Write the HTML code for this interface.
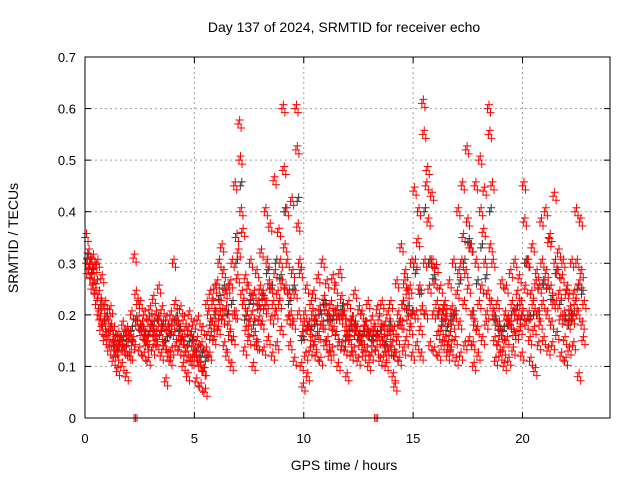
<!DOCTYPE html>
<html><head><meta charset="utf-8">
<style>
body{margin:0;background:#fff;}
svg text{font-family:"Liberation Sans",sans-serif;}
</style></head>
<body>
<svg id="chart" width="640" height="480" xmlns="http://www.w3.org/2000/svg">
<rect width="640" height="480" fill="#fff"/>
<text x="344" y="32" font-size="14" text-anchor="middle">Day 137 of 2024, SRMTID for receiver echo</text>
<text x="344" y="470" font-size="14" text-anchor="middle">GPS time / hours</text>
<text transform="translate(18,238) rotate(-90)" font-size="14" text-anchor="middle">SRMTID / TECUs</text>
<g id="grid"></g>
<g id="ticks"></g>
<g id="black"></g>
<g id="red"></g>
<rect x="85" y="57" width="525" height="361" fill="none" stroke="#000" stroke-width="1"/>
</svg>
<script>
const xTicks=[0,5,10,15,20];
const yTicks=[0,0.1,0.2,0.3,0.4,0.5,0.6,0.7];
const yTickLabels=["0","0.1","0.2","0.3","0.4","0.5","0.6","0.7"];
const times=[0,0.2,0.4,0.6,0.8,1.0,1.2,1.4,1.6,1.8,2.0,2.2,2.4,2.6,2.8,3.0,3.2,3.4,3.6,3.8,4.0,4.2,4.4,4.6,4.8,5.0,5.2,5.4,5.6,5.8,6.0,6.2,6.4,6.6,6.8,7.0,7.2,7.4,7.6,7.8,8.0,8.2,8.4,8.6,8.8,9.0,9.2,9.4,9.6,9.8,10.0,10.2,10.4,10.6,10.8,11.0,11.2,11.4,11.6,11.8,12.0,12.2,12.4,12.6,12.8,13.0,13.2,13.4,13.6,13.8,14.0,14.2,14.4,14.6,14.8,15.0,15.2,15.4,15.6,15.8,16.0,16.2,16.4,16.6,16.8,17.0,17.2,17.4,17.6,17.8,18.0,18.2,18.4,18.6,18.8,19.0,19.2,19.4,19.6,19.8,20.0,20.2,20.4,20.6,20.8,21.0,21.2,21.4,21.6,21.8,22.0,22.2,22.4,22.6];
const redA=[.35,.30,.29,.24,.18,.16,.14,.12,.15,.13,.16,.31,.19,.17,.15,.18,.20,.16,.14,.17,.30,.18,.15,.13,.16,.12,.10,.09,.20,.22,.26,.33,.21,.26,.45,.57,.22,.25,.20,.28,.32,.40,.37,.46,.36,.60,.30,.42,.60,.28,.20,.18,.24,.27,.30,.26,.22,.25,.28,.20,.22,.19,.17,.20,.18,.16,.17,.19,.15,.20,.14,.26,.33,.28,.25,.44,.40,.61,.48,.43,.29,.25,.22,.26,.30,.40,.45,.52,.33,.45,.50,.44,.60,.30,.22,.26,.25,.28,.30,.27,.45,.30,.33,.28,.38,.40,.35,.43,.32,.30,.25,.30,.40,.38];
const redB=[.30,.27,.24,.19,.15,.13,.11,.09,.10,.08,.12,0,.13,.12,.11,.13,.14,.12,.07,.11,.16,.13,.10,.08,.11,.07,.06,.05,.12,.15,.17,.19,.12,.10,.20,.50,.13,.15,.10,.14,.18,.22,.25,.28,.22,.48,.19,.28,.52,.10,.12,.13,.14,.16,.18,.15,.13,.16,.19,.13,.15,.13,.11,.15,.13,.12,0,.11,.12,.16,.08,.15,.18,.15,.17,.30,.25,.55,.38,.30,.22,.17,.15,.16,.20,.28,.35,.38,.20,.30,.40,.30,.55,.20,.14,.16,.15,.18,.20,.17,.38,.20,.22,.20,.30,.28,.25,.30,.24,.20,.18,.19,.30,.28];
const redC=[.28,.25,.22,.17,.22,.19,.17,.16,.18,.17,.20,.24,.22,.20,.19,.23,.17,.21,.19,.20,.22,.16,.19,.17,.14,.15,.14,.13,.24,.25,.30,.28,.25,.30,.35,.40,.27,.18,.24,.22,.24,.30,.19,.20,.30,.33,.24,.18,.37,.16,.25,.22,.19,.21,.23,.20,.27,.21,.23,.17,.18,.24,.21,.12,.22,.19,.13,.15,.18,.13,.17,.20,.22,.24,.30,.20,.17,.30,.25,.20,.16,.14,.19,.13,.15,.18,.22,.25,.14,.17,.25,.18,.33,.15,.18,.13,.19,.22,.16,.22,.25,.15,.17,.14,.22,.20,.18,.22,.19,.15,.13,.14,.20,.18];
const redD=[.32,.31,.30,.27,.16,.21,.15,.14,.13,.16,.14,.18,.16,.15,.21,.16,.25,.18,.17,.13,.14,.21,.12,.20,.18,.19,.17,.22,.16,.18,.20,.14,.18,.15,.27,.24,.17,.30,.16,.19,.13,.15,.12,.14,.17,.25,.14,.11,.20,.06,.08,.15,.12,.11,.14,.12,.17,.10,.14,.08,.12,.16,.14,.17,.10,.14,.21,.22,.10,.22,.06,.11,.13,.19,.12,.14,.12,.20,.14,.13,.12,.20,.12,.21,.11,.12,.14,.15,.10,.12,.15,.20,.22,.11,.12,.10,.11,.13,.24,.12,.18,.11,.09,.25,.15,.13,.14,.16,.12,.11,.21,.24,.08,.15];
const redE=[.29,.26,.20,.21,.19,.17,.13,.15,.16,.12,.15,.22,.18,.14,.17,.15,.19,.14,.12,.18,.19,.15,.17,.11,.13,.11,.09,.16,.18,.20,.22,.24,.16,.20,.32,.36,.20,.23,.14,.25,.21,.26,.22,.24,.26,.40,.20,.24,.30,.18,.17,.20,.16,.18,.21,.18,.20,.14,.20,.16,.19,.17,.15,.18,.16,.17,.15,.17,.13,.17,.12,.18,.26,.21,.20,.34,.21,.45,.30,.26,.20,.21,.14,.18,.24,.30,.28,.33,.18,.22,.36,.24,.45,.18,.16,.20,.18,.16,.19,.20,.30,.24,.26,.18,.26,.34,.22,.28,.27,.24,.20,.22,.26,.22];
const blackVals=[.31,.28,.26,.22,.19,.17,.14,.13,.15,.14,.17,.19,.17,.16,.16,.18,.19,.17,.15,.16,.19,.17,.15,.14,.15,.13,.12,.11,.18,.20,.23,.25,.20,.22,.30,.45,.19,.22,.18,.21,.23,.28,.25,.30,.27,.40,.22,.25,.42,.15,.17,.17,.18,.20,.22,.19,.19,.19,.21,.15,.17,.18,.16,.16,.16,.15,.16,.17,.14,.18,.12,.18,.22,.21,.20,.28,.24,.40,.30,.27,.20,.18,.17,.19,.20,.26,.30,.34,.20,.26,.33,.27,.40,.19,.17,.17,.18,.20,.21,.19,.30,.19,.20,.20,.26,.25,.23,.28,.22,.19,.18,.20,.25,.24];

const NS='http://www.w3.org/2000/svg';
const X0=85,X1=610,Y0=418,Y1=57;
function xs(t){return X0+(t/24)*(X1-X0);}
function ys(v){return Y0-(v/0.7)*(Y0-Y1);}
function mk(tag,attrs,parent){const e=document.createElementNS(NS,tag);for(const k in attrs)e.setAttribute(k,attrs[k]);parent.appendChild(e);return e;}
const grid=document.getElementById('grid'),ticks=document.getElementById('ticks');
xTicks.forEach(t=>{
  const x=xs(t);
  if(t>0){const g=mk('line',{x1:x,x2:x,y1:Y1,y2:Y0,stroke:'#a0a0a0','stroke-dasharray':'2,3'},grid);
  
  }
  mk('line',{x1:x,x2:x,y1:Y0,y2:Y0-6,stroke:'#000'},ticks);
  mk('line',{x1:x,x2:x,y1:Y1,y2:Y1+6,stroke:'#000'},ticks);
  const l=mk('text',{x:x,y:443,'font-size':13,'text-anchor':'middle'},ticks);
  l.textContent=String(t);
  
  
});
yTicks.forEach((v,i)=>{
  const y=ys(v);
  if(i>0&&i<yTicks.length-1){const g=mk('line',{x1:X0,x2:X1,y1:y,y2:y,stroke:'#a0a0a0','stroke-dasharray':'2,3'},grid);
  
  }
  mk('line',{x1:X0,x2:X0+6,y1:y,y2:y,stroke:'#000'},ticks);
  mk('line',{x1:X1,x2:X1-6,y1:y,y2:y,stroke:'#000'},ticks);
  const l=mk('text',{x:X0-9,y:y+5,'font-size':13,'text-anchor':'end'},ticks);
  l.textContent=yTickLabels[i];
  
  
});
const clusterDx=[0,1.5,3];
const clusterDy=[0,-4,4];
function plus(g,t,v,color,n){
  const x0=xs(t),y0=ys(v);
  for(let k=0;k<n;k++){
    const x=x0+clusterDx[k],y=(v===0)?y0:y0+clusterDy[k];
    const p=mk('path',{d:`M${x-4} ${y}H${x+4}M${x} ${y-4}V${y+4}`,stroke:color,'stroke-width':1,fill:'none'},g);
    
    
  }
}
const bg=document.getElementById('black'),rg=document.getElementById('red');
times.forEach((t,i)=>{plus(bg,t+0.1,blackVals[i],'#333',2);});
const offs=[0,0.04,0.08,0.12,0.16];
[redA,redB,redC,redD,redE].forEach((arr,k)=>{
  times.forEach((t,i)=>{plus(rg,t+offs[k],arr[i],'#ff0000',3);});
});
</script>
</body></html>
